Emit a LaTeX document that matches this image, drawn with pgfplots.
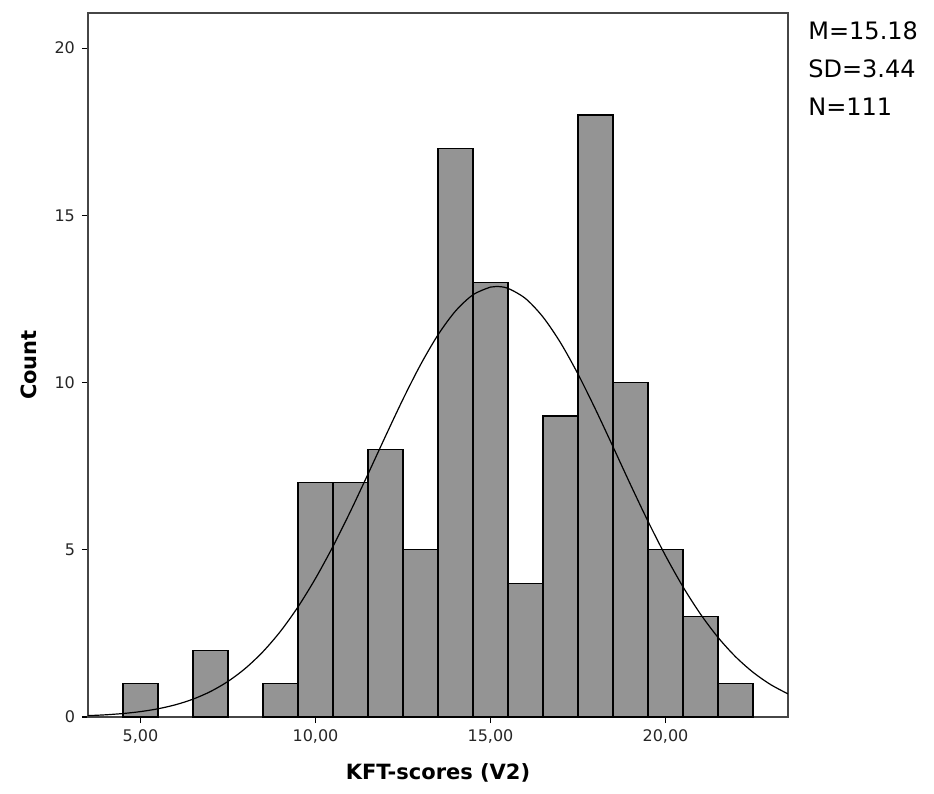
\documentclass[border=0pt]{standalone}
\usepackage{fontspec}
\setmainfont{DejaVu Sans}
\usepackage{pgfplots}
\pgfplotsset{compat=1.18}
\definecolor{barfill}{RGB}{148,148,148}
\definecolor{framec}{RGB}{70,70,70}
\begin{document}
\begin{tikzpicture}
\begin{axis}[
  name=ax,
  scale only axis,
  width=350pt, height=352pt,
  xmin=3.5, xmax=23.5, ymin=0, ymax=21.05,
  xtick={5,10,15,20},
  xticklabels={{5,00},{10,00},{15,00},{20,00}},
  ytick={0,5,10,15,20},
  tick align=outside, tick pos=left,
  major tick length=3pt,
  every tick/.style={black, line width=0.6pt},
  axis line style={framec, line width=0.6pt},
  tick label style={font=\fontsize{8}{9}\selectfont, text=black!85},
  /pgf/number format/assume math mode=true,
  xlabel={\bfseries KFT-scores (V2)},
  ylabel={\bfseries Count},
  label style={font=\fontsize{10.5}{12}\selectfont},
  xlabel style={yshift=-3pt},
  ylabel style={yshift=2pt},
  clip=true,
]
\addplot[ybar, bar width=1, fill=barfill, draw=black, line width=0.6pt]
  coordinates {
    (5,1) (7,2) (9,1) (10,7) (11,7) (12,8) (13,5) (14,17) (15,13)
    (16,4) (17,9) (18,18) (19,10) (20,5) (21,3) (22,1)
  };
\addplot[black, line width=0.6pt, smooth, no marks] coordinates {
  (3.5,0.0404) (4.0,0.0655) (4.5,0.1040) (5.0,0.1614) (5.5,0.2456)
  (6.0,0.3659) (6.5,0.5336) (7.0,0.7617) (7.5,1.0649) (8.0,1.458)
  (8.5,1.954) (9.0,2.563) (9.5,3.293) (10.0,4.143) (10.5,5.102)
  (11.0,6.152) (11.5,7.264) (12.0,8.396) (12.5,9.503) (13.0,10.531)
  (13.5,11.426) (14.0,12.138) (14.5,12.624) (15.0,12.855) (15.18,12.873)
  (15.5,12.817) (16.0,12.512) (16.5,11.959) (17.0,11.192) (17.5,10.254)
  (18.0,9.199) (18.5,8.081) (19.0,6.949) (19.5,5.851) (20.0,4.824)
  (20.5,3.893) (21.0,3.077) (21.5,2.381) (22.0,1.804) (22.5,1.338)
  (23.0,0.9715) (23.5,0.6909)
};
\end{axis}
\node[anchor=north west, align=left, font=\fontsize{12}{19}\selectfont, inner sep=0pt]
  at ([xshift=10pt,yshift=-4pt]ax.north east) {M=15.18\\SD=3.44\\N=111};
\pgfresetboundingbox
\path ([xshift=-44pt,yshift=-38.5pt]ax.south west) rectangle ([xshift=73pt,yshift=6.5pt]ax.north east);
\end{tikzpicture}
\end{document}
